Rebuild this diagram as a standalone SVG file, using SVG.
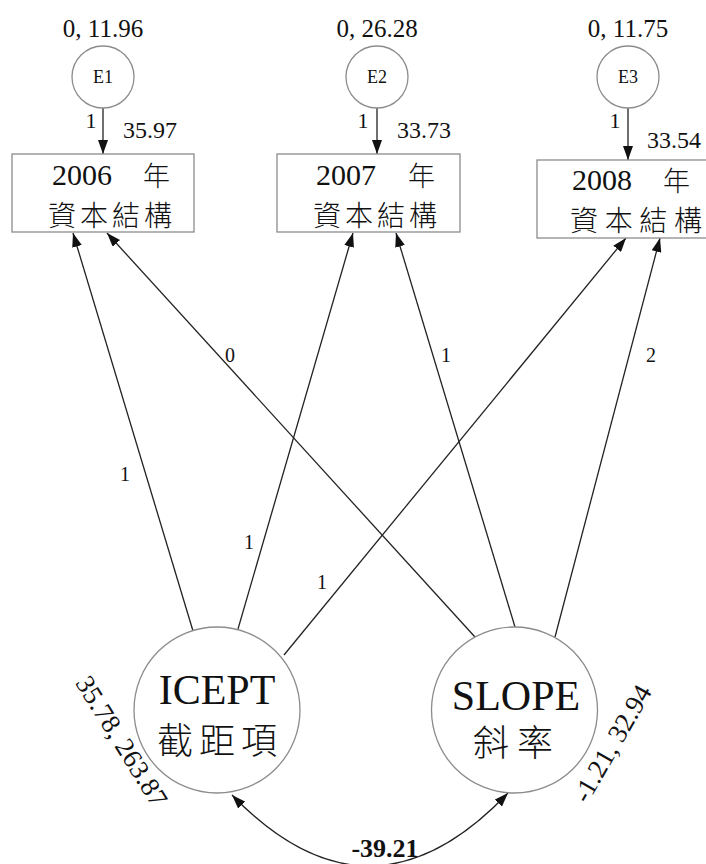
<svg xmlns="http://www.w3.org/2000/svg" width="706" height="864" viewBox="0 0 706 864">
<style>
.bg{fill:#ffffff}
.box{fill:#ffffff;stroke:#8c8c8c;stroke-width:1.3}
.circ{fill:#ffffff;stroke:#8c8c8c;stroke-width:1.3}
.lt{font-family:"Liberation Serif","Times New Roman",serif;fill:#111}
.cjk{font-family:"Noto Sans CJK TC","Noto Sans CJK SC",sans-serif;fill:#111;font-weight:300}
.conn path,.conn line{fill:none;stroke:#222;stroke-width:1.3}
</style>
<defs>
<marker id="ah" viewBox="0 0 14 10" refX="14" refY="5" markerWidth="14" markerHeight="10" markerUnits="userSpaceOnUse" orient="auto-start-reverse">
<path d="M0,0 L14,5 L0,10 z" fill="#111"/>
</marker>
</defs>
<rect class="bg" x="0" y="0" width="706" height="864"/>

<g id="connectors" class="conn">
<line x1="103" y1="108" x2="103" y2="154" marker-end="url(#ah)"/>
<line x1="377" y1="108" x2="377" y2="154" marker-end="url(#ah)"/>
<line x1="628" y1="108" x2="628" y2="160" marker-end="url(#ah)"/>
<line x1="193" y1="631" x2="73" y2="233" marker-end="url(#ah)"/>
<line x1="475" y1="637" x2="107" y2="233" marker-end="url(#ah)"/>
<line x1="238" y1="629" x2="353" y2="233" marker-end="url(#ah)"/>
<line x1="515" y1="627" x2="396" y2="233" marker-end="url(#ah)"/>
<line x1="284" y1="655" x2="626" y2="238" marker-end="url(#ah)"/>
<line x1="555" y1="637" x2="660" y2="238" marker-end="url(#ah)"/>
<path d="M232,795 Q370,938 508,793" marker-start="url(#ah)" marker-end="url(#ah)"/>
</g>

<g id="labels" class="lt" font-size="20">
<text x="91" y="128" font-size="22" text-anchor="middle">1</text>
<text x="123" y="138" font-size="24">35.97</text>
<text x="363" y="128" font-size="22" text-anchor="middle">1</text>
<text x="397" y="138" font-size="24">33.73</text>
<text x="615" y="128" font-size="22" text-anchor="middle">1</text>
<text x="647" y="148" font-size="24">33.54</text>
<text x="230" y="362" text-anchor="middle">0</text>
<text x="446" y="362" text-anchor="middle">1</text>
<text x="651" y="362" text-anchor="middle">2</text>
<text x="125" y="481" text-anchor="middle">1</text>
<text x="249" y="549" text-anchor="middle">1</text>
<text x="322" y="589" text-anchor="middle">1</text>
<text x="385" y="857" font-size="26" font-weight="bold" text-anchor="middle">-39.21</text>
</g>

<g id="E1">
<text class="lt" x="103" y="37" font-size="25" text-anchor="middle">0, 11.96</text>
<circle class="circ" cx="103" cy="77" r="31"/>
<text class="lt" x="103" y="83" font-size="18" text-anchor="middle">E1</text>
</g>
<g id="E2">
<text class="lt" x="377" y="37" font-size="25" text-anchor="middle">0, 26.28</text>
<circle class="circ" cx="377" cy="77" r="31"/>
<text class="lt" x="377" y="83" font-size="18" text-anchor="middle">E2</text>
</g>
<g id="E3">
<text class="lt" x="628" y="37" font-size="25" text-anchor="middle">0, 11.75</text>
<circle class="circ" cx="628" cy="77" r="31"/>
<text class="lt" x="628" y="83" font-size="18" text-anchor="middle">E3</text>
</g>

<g id="Y2006">
<rect class="box" x="12" y="154" width="182" height="78"/>
<text class="lt" x="52" y="185" font-size="30">2006</text>
<text class="cjk" x="143" y="186" font-size="27">年</text>
<text class="cjk" x="48" y="226" font-size="28" textLength="124" lengthAdjust="spacing">資本結構</text>
</g>
<g id="Y2007">
<rect class="box" x="277" y="154" width="183" height="78"/>
<text class="lt" x="316" y="185" font-size="30">2007</text>
<text class="cjk" x="408" y="186" font-size="27">年</text>
<text class="cjk" x="313" y="226" font-size="28" textLength="124" lengthAdjust="spacing">資本結構</text>
</g>
<g id="Y2008">
<rect class="box" x="537" y="160" width="180" height="78"/>
<text class="lt" x="572" y="190" font-size="30">2008</text>
<text class="cjk" x="663" y="191" font-size="27">年</text>
<text class="cjk" x="570" y="231" font-size="28" textLength="132" lengthAdjust="spacing">資本結構</text>
</g>

<g id="ICEPT">
<circle class="circ" cx="217" cy="710" r="83"/>
<text class="lt" x="217" y="704" font-size="42" text-anchor="middle">ICEPT</text>
<text class="cjk" x="157" y="754" font-size="36" textLength="120" lengthAdjust="spacing">截距項</text>
<text class="lt" font-size="27" text-anchor="middle" transform="translate(114,746) rotate(58)">35.78, 263.87</text>
</g>
<g id="SLOPE">
<circle class="circ" cx="514.5" cy="710" r="83"/>
<text class="lt" x="516" y="710" font-size="42" text-anchor="middle">SLOPE</text>
<text class="cjk" x="473" y="756" font-size="36" textLength="80" lengthAdjust="spacing">斜率</text>
<text class="lt" font-size="27" text-anchor="middle" transform="translate(620,748) rotate(-60)">-1.21, 32.94</text>
</g>
</svg>
